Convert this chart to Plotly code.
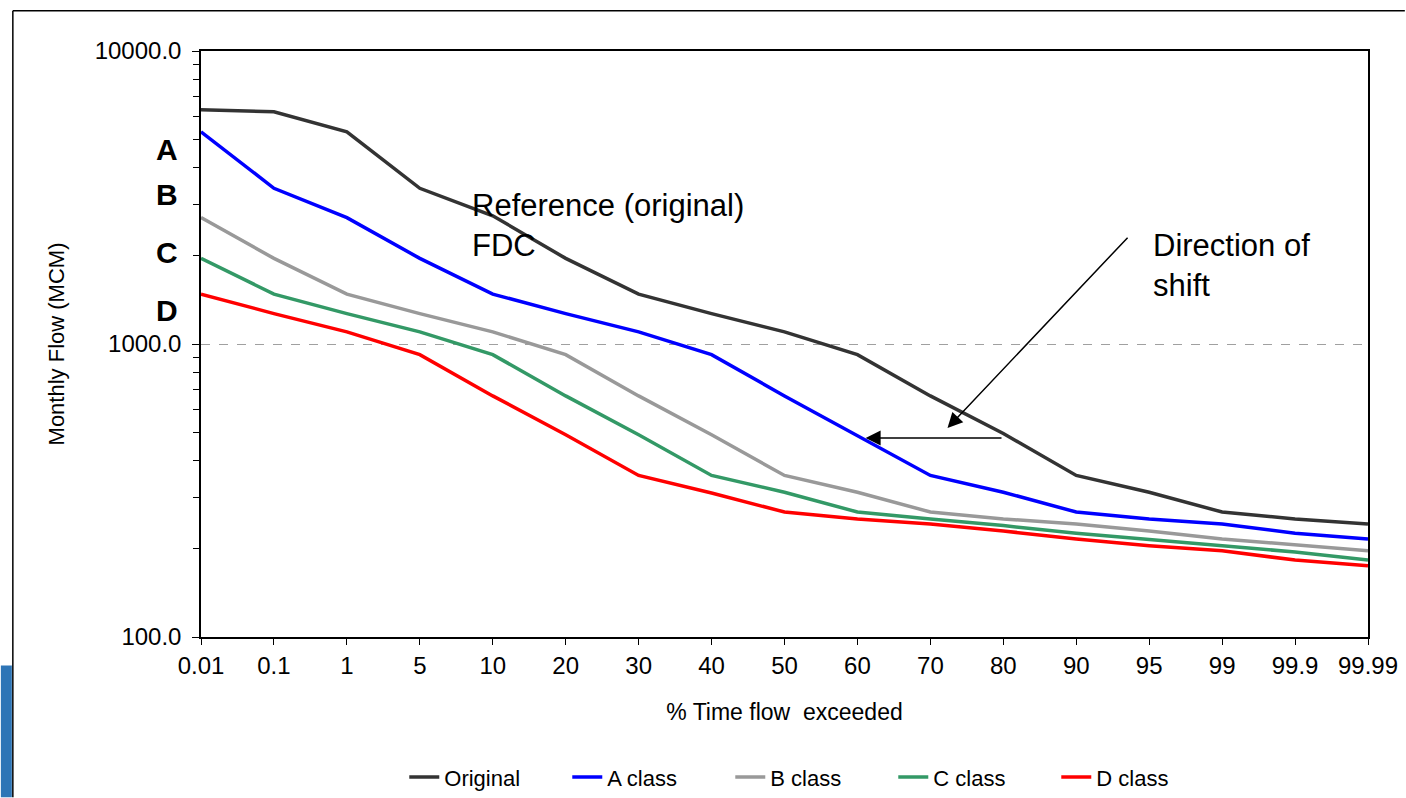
import plotly.graph_objects as go

categories = ["0.01", "0.1", "1", "5", "10", "20", "30", "40", "50", "60",
              "70", "80", "90", "95", "99", "99.9", "99.99"]

original = [6300, 6200, 5300, 3400, 2740, 1960, 1480, 1270, 1100, 920,
            665, 495, 356, 312, 267, 253, 243]
a_class = [5300, 3400, 2700, 1960, 1480, 1270, 1100, 920, 665, 485,
           356, 312, 267, 253, 243, 226, 216]
b_class = [2700, 1960, 1480, 1270, 1100, 920, 665, 490, 356, 312,
           267, 253, 243, 230, 216, 206, 197]
c_class = [1960, 1480, 1270, 1100, 920, 665, 490, 356, 312, 267,
           253, 240, 226, 215, 205, 195, 183]
d_class = [1480, 1270, 1100, 920, 665, 490, 356, 310, 267, 253,
           243, 230, 216, 205, 197, 183, 175]

series = [
    ("Original", original, "#333333"),
    ("A class", a_class, "#0000FF"),
    ("B class", b_class, "#999999"),
    ("C class", c_class, "#339966"),
    ("D class", d_class, "#FF0000"),
]

y_tickvals = [100, 1000, 10000]
y_ticktext = ["100.0", "1000.0", "10000.0"]
y_minor = [200, 300, 400, 500, 600, 700, 800, 900,
           2000, 3000, 4000, 5000, 6000, 7000, 8000, 9000]

FONT = "Liberation Sans, Arial, sans-serif"

fig = go.Figure()
for name, vals, col in series:
    fig.add_trace(go.Scatter(x=categories, y=vals, name=name, mode="lines",
                             line=dict(color=col, width=3.5)))

# target layout in reference-image pixels (1406x798), compensated for the
# photographing scale observed in earlier renders
SX, SY = 1410 / 1406, 810 / 798
W, H = 1410, 810
PL, PR, PT, PB = 200, 1369, 50, 637          # plot area in reference pixels
L = round(PL * SX)
R = W - round(PR * SX)
T = round(PT * SY)
B = H - round(PB * SY)
pw, ph = W - L - R, H - T - B

def px(x):
    return (x * SX - L) / pw

def py(y):
    return (H - B - y * SY) / ph

annotations = []
for letter, yy in [("A", 149), ("B", 194), ("C", 252), ("D", 310)]:
    annotations.append(dict(x=px(166), y=py(yy), xref="paper", yref="paper",
                            text=f"<b>{letter}</b>", showarrow=False,
                            font=dict(family=FONT, size=30, color="black"),
                            xanchor="center", yanchor="middle"))
annotations.append(dict(x=px(470), y=py(186), xref="paper", yref="paper",
                        text="Reference (original)<br>FDC", showarrow=False,
                        align="left", xanchor="left", yanchor="top",
                        font=dict(family=FONT, size=31, color="black")))
annotations.append(dict(x=px(1152), y=py(226), xref="paper", yref="paper",
                        text="Direction of<br>shift", showarrow=False,
                        align="left", xanchor="left", yanchor="top",
                        font=dict(family=FONT, size=31, color="black")))
annotations.append(dict(x=px(948), y=py(428), xref="paper", yref="paper",
                        ax=181 * SX, ay=-189 * SY, text="", showarrow=True,
                        arrowhead=2, arrowsize=2, arrowwidth=1.5, arrowcolor="black"))
annotations.append(dict(x=px(866), y=py(438), xref="paper", yref="paper",
                        ax=137 * SX, ay=0, text="", showarrow=True,
                        arrowhead=2, arrowsize=2, arrowwidth=1.5, arrowcolor="black"))

shapes = [
    dict(type="line", xref="paper", yref="paper", x0=px(12), x1=px(12),
         y0=py(10), y1=py(798), line=dict(color="black", width=1.5)),
    dict(type="line", xref="paper", yref="paper", x0=px(12), x1=px(1406),
         y0=py(10), y1=py(10), line=dict(color="black", width=1.5)),
    dict(type="rect", xref="paper", yref="paper", x0=px(0), x1=px(11),
         y0=py(666), y1=py(798), fillcolor="#2E75B6", line=dict(width=0)),
]

fig.update_layout(
    width=W, height=H,
    margin=dict(l=L, r=R, t=T, b=B),
    paper_bgcolor="white", plot_bgcolor="white",
    font=dict(family=FONT, size=24, color="black"),
    showlegend=True,
    legend=dict(orientation="h", x=px(404), xanchor="left", y=py(778), yanchor="middle",
                font=dict(family=FONT, size=22, color="black"),
                entrywidth=118, entrywidthmode="pixels", tracegroupgap=0),
    annotations=annotations,
    shapes=shapes,
)

fig.update_xaxes(
    type="category", range=[0, 16],
    showline=True, linecolor="black", linewidth=1.5, mirror=True,
    ticks="outside", ticklen=6, tickcolor="black",
    showgrid=False, zeroline=False,
    tickfont=dict(family=FONT, size=24),
    title=dict(text="% Time flow  exceeded", font=dict(family=FONT, size=23), standoff=26),
)
fig.update_yaxes(
    type="log", range=[2, 4],
    tickvals=y_tickvals, ticktext=y_ticktext,
    showline=True, linecolor="black", linewidth=1.5, mirror=True,
    ticks="outside", ticklen=7, tickcolor="black", ticklabelstandoff=6,
    minor=dict(tickvals=y_minor, ticks="outside", ticklen=6, tickcolor="black", showgrid=False),
    showgrid=True, gridcolor="#A0A0A0", griddash="dash", gridwidth=1,
    zeroline=False,
    tickfont=dict(family=FONT, size=24),
    title=dict(text="Monthly Flow (MCM)", font=dict(family=FONT, size=22), standoff=24),
)

post = (
    "var de=document.documentElement, b=document.body;"
    "de.style.margin='0';de.style.padding='0';de.style.overflow='hidden';"
    "b.style.margin='0';b.style.padding='0';b.style.overflow='hidden';"
    "var g=document.querySelector('.plotly-graph-div');"
    "var w=g.parentElement; w.style.position='fixed'; w.style.left='0'; w.style.top='0';"
)
fig.write_html("out.html", config={"displayModeBar": False}, post_script=post)
